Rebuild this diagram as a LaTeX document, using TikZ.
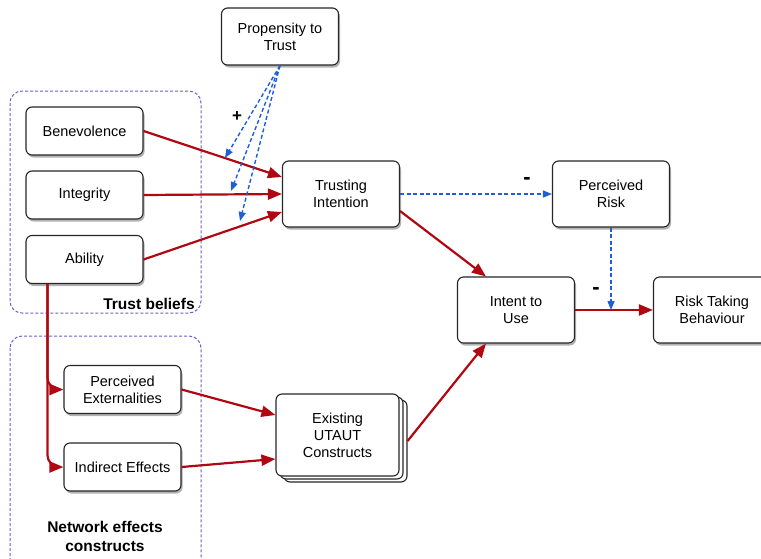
\documentclass[tikz,border=0pt]{standalone}
\usepackage{fontspec}
\setmainfont{Liberation Sans}
\usetikzlibrary{arrows.meta,shadows,calc}

\definecolor{linkred}{HTML}{B00812}
\definecolor{linkblue}{HTML}{1E5FD8}
\definecolor{groupline}{HTML}{6E5ECC}

\begin{document}
\begin{tikzpicture}[x=1pt,y=-1pt,
  box/.style={draw=black!85, line width=1.1pt, fill=white, rounded corners=6pt,
    minimum width=117pt, align=center, inner sep=2pt,
    font=\fontsize{14.5}{17}\selectfont,
    drop shadow={shadow xshift=1.5pt, shadow yshift=-2.5pt, opacity=0.3, fill=black}},
  plainbox/.style={draw=black!85, line width=1.1pt, fill=white, rounded corners=6pt,
    minimum width=123pt, minimum height=82pt},
  redlink/.style={draw=linkred, line width=2.2pt, -{Triangle[length=14pt,width=11pt]}},
  bluelink/.style={draw=linkblue, line width=1.4pt, dash pattern=on 4pt off 2.5pt,
    -{Triangle[length=9pt,width=7pt]}},
  groupbox/.style={draw=groupline, line width=1pt, dash pattern=on 3pt off 2pt,
    rounded corners=12pt},
  grouplabel/.style={font=\bfseries\fontsize{15.5}{19}\selectfont, align=center},
  sign/.style={font=\bfseries\fontsize{17}{17}\selectfont, inner sep=0pt},
  minussign/.style={font=\bfseries\fontsize{22}{22}\selectfont, inner sep=0pt}
]
\clip (0,0) rectangle (761,558);

% construct groups
\draw[groupbox] (10,91) rectangle (201,313);
\draw[groupbox] (10,336) rectangle (201,590);
\node[grouplabel] (tblabel) at (149,304) {Trust beliefs};
\node[grouplabel] (nelabel) at (105,536) {Network effects\\constructs};

% constructs
\node[box, minimum height=57pt] (prop) at (280,36.5) {Propensity to\\Trust};
\node[box, minimum height=48pt] (ben) at (84.5,131) {Benevolence};
\node[box, minimum height=48pt] (int) at (84.5,195) {Integrity};
\node[box, minimum height=48pt] (abl) at (84.5,259.5) {Ability};
\node[box, minimum height=66pt] (ti) at (341,194) {Trusting\\Intention};
\node[box, minimum height=66pt] (pr) at (611,194) {Perceived\\Risk};
\node[box, minimum height=66pt] (iu) at (516,310) {Intent to\\Use};
\node[box, minimum height=66pt] (rtb) at (712,310) {Risk Taking\\Behaviour};
\node[box, minimum height=48pt] (pe) at (122.5,389.5) {Perceived\\Externalities};
\node[box, minimum height=48pt] (ie) at (122.5,467) {Indirect Effects};

% stacked UTAUT constructs
\node[plainbox] (ut3) at (345.5,441) {};
\node[plainbox] (ut2) at (341.5,438) {};
\node[plainbox, align=center, font=\fontsize{14.5}{17}\selectfont] (ut) at (337.5,435) {Existing\\UTAUT\\Constructs};

% trust beliefs to trusting intention
\draw[redlink] (ben.east) -- ($(ti.west)+(0,-17)$);
\draw[redlink] (int.east) -- (ti.west);
\draw[redlink] (abl.east) -- ($(ti.west)+(0,18)$);

% propensity to trust moderating the belief links
\coordinate (ptben) at (225,158);
\coordinate (ptint) at (231,191);
\coordinate (ptabl) at (240,221);
\draw[bluelink] (prop.south) -- (ptben);
\draw[bluelink] (prop.south) -- (ptint);
\draw[bluelink] (prop.south) -- (ptabl);
\node[sign] (plus) at (237,117) {+};

% ability feeding the network effects constructs
\coordinate (abldrop) at ($(abl.south west)+(22,0)$);
\draw[redlink, rounded corners=12pt] (abldrop) |- (pe.west);
\draw[redlink, rounded corners=12pt] (abldrop) |- (ie.west);

% network effects to UTAUT constructs
\draw[redlink] (pe.east) -- ($(ut.west)+(0,-20)$);
\draw[redlink] (ie.east) -- ($(ut.west)+(0,24)$);

% paths to intent and behaviour
\draw[redlink] ($(ti.east)+(0,17)$) -- ($(iu.north west)+(29,0)$);
\draw[redlink] (ut3.east) -- ($(iu.south west)+(29,0)$);
\draw[redlink] (iu.east) -- (rtb.west);

% perceived risk
\draw[bluelink] (ti.east) -- (pr.west);
\node[minussign] (minusa) at (527,181) {-};
\draw[bluelink] (pr.south) -- (pr.south |- iu.east);
\node[minussign] (minusb) at (596,291) {-};
\end{tikzpicture}
\end{document}
